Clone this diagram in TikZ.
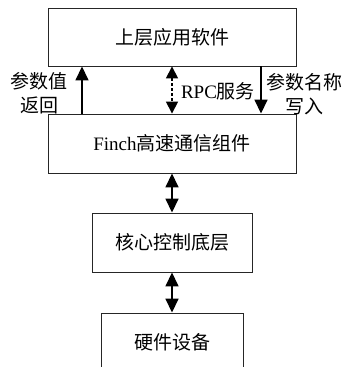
\documentclass[tikz,border=0pt]{standalone}
\usepackage{fontspec}
\setmainfont{Liberation Serif}
\newfontfamily\cjk{Noto Sans CJK SC}
\newfontfamily\lat{Liberation Serif}
\usetikzlibrary{arrows.meta}
\begin{document}
\begin{tikzpicture}[x=1pt,y=-1pt,
  box/.style={draw=black!85,line width=0.9pt,inner sep=0pt,font=\fontsize{19}{23}\selectfont\cjk},
  lbl/.style={inner sep=0pt,align=center,font=\fontsize{19}{24.5}\selectfont\cjk},
  arr/.style={line width=1.6pt,-{Triangle[width=13pt,length=14pt]}},
  darr/.style={line width=1.6pt,{Triangle[width=13pt,length=14pt]}-{Triangle[width=13pt,length=14pt]}},
  dsharr/.style={line width=1.6pt,dash pattern=on 3pt off 2pt,{Triangle[width=12pt,length=12pt]}-{Triangle[width=12pt,length=12pt]}}
]
\useasboundingbox (0,0) rectangle (343,367);
\fill[white] (0,0) rectangle (343,367);
\node[box,minimum width=248pt,minimum height=58pt] (b1) at (172,37) {上层应用软件};
\node[box,minimum width=248pt,minimum height=59pt] (b2) at (172,143.5) {{\lat Finch}高速通信组件};
\node[box,minimum width=160pt,minimum height=59pt] (b3) at (172,242.5) {核心控制底层};
\node[box,minimum width=142pt,minimum height=58pt] (b4) at (172,342) {硬件设备};
\coordinate (xl) at (82,0);
\coordinate (xm) at (172,0);
\coordinate (xr) at (261,0);
\draw[arr] (b2.north -| xl) -- (b1.south -| xl);
\draw[arr] (b1.south -| xr) -- (b2.north -| xr);
\draw[dsharr] (b1.south -| xm) -- (b2.north -| xm);
\draw[darr] (b2.south) -- (b3.north);
\draw[darr] (b3.south) -- (b4.north);
\node[lbl] (l1) at (39,93) {参数值\\返回};
\node[lbl] (l2) at (218,91) {{\lat RPC}服务};
\node[lbl] (l3) at (304,94) {参数名称\\写入};
\end{tikzpicture}
\end{document}
